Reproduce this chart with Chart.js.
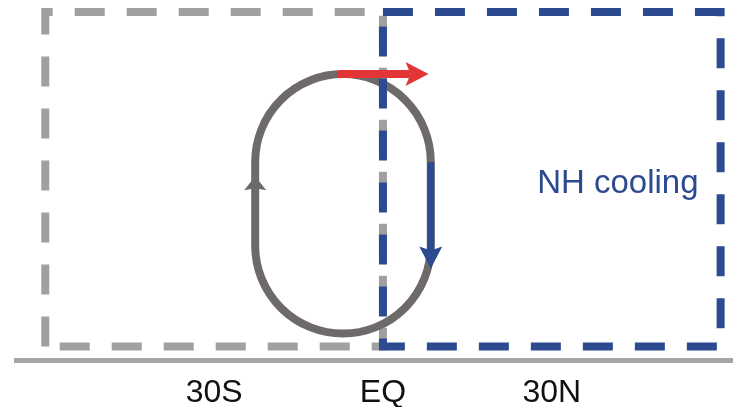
<!DOCTYPE html>
<html lang="en">
<head>
    <meta charset="UTF-8">
    <title>Overturning cell schematic</title>
    <script src="https://cdn.jsdelivr.net/npm/chart.js@4.4.1/dist/chart.umd.min.js"></script>
    <style>
        html, body {
            margin: 0;
            padding: 0;
            background: #fff;
            overflow: hidden;
        }
        .chart-container {
            position: relative;
            width: 733px;
            height: 425px;
        }
    </style>
</head>
<body>
    <div class="chart-container">
        <canvas id="cellChart"></canvas>
    </div>

    <script>
        // latitude axis
        const tickValues = [-30, 0, 30];
        const tickLabels = ['30S', 'EQ', '30N'];

        // dashed regions (latitude, height)
        const southBoxLat = [-60, -60, 0, 0, -60];
        const southBoxLev = [1.4, 34.8, 34.8, 1.4, 1.4];
        const northBoxLat = [0, 60, 60, 0, 0];
        const northBoxLev = [34.8, 34.8, 1.4, 1.4, 34.8];

        // overturning loop: west / east edge, bottom / top
        const loopLat = [-22.7, 8.5];
        const loopLev = [2.7, 28.6];

        // arrows: start -> tip
        const fluxLat = [-8.0, 8.1];
        const fluxLev = [28.6, 28.6];
        const sinkLat = [8.5, 8.5];
        const sinkLev = [19.8, 9.2];
        const riseLat = [-22.7];
        const riseLev = [18.4];

        // region label
        const regionLabels = ['NH cooling'];
        const regionLabelLat = [27.4];
        const regionLabelLev = [16.7];

        const GRAY_BOX = '#a0a0a0';
        const LOOP_GRAY = '#6e6a69';
        const BLUE = '#2b4a8f';
        const RED = '#e23636';

        function toPx(chart, lat, lev) {
            return [chart.scales.x.getPixelForValue(lat), chart.scales.y.getPixelForValue(lev)];
        }

        // triangle head, optional notch on its back edge
        function arrowHead(ctx, tipX, tipY, dirX, dirY, len, width, color, notch) {
            const bx = tipX - dirX * len, by = tipY - dirY * len;
            const nx = -dirY, ny = dirX;
            const n = notch || 0;
            ctx.save();
            ctx.fillStyle = color;
            ctx.beginPath();
            ctx.moveTo(tipX, tipY);
            ctx.lineTo(bx + nx * width / 2, by + ny * width / 2);
            ctx.lineTo(bx + dirX * n, by + dirY * n);
            ctx.lineTo(bx - nx * width / 2, by - ny * width / 2);
            ctx.closePath();
            ctx.fill();
            ctx.restore();
        }

        function shaft(ctx, x1, y1, x2, y2, color, w) {
            ctx.save();
            ctx.strokeStyle = color;
            ctx.lineWidth = w;
            ctx.lineCap = 'butt';
            ctx.beginPath();
            ctx.moveTo(x1, y1);
            ctx.lineTo(x2, y2);
            ctx.stroke();
            ctx.restore();
        }

        const cellPlugin = {
            id: 'cell',
            // draw loop and arrows right after the south box, below the north box
            afterDatasetDraw(chart, args) {
                if (args.index !== 1) return;
                const ctx = chart.ctx;

                // loop
                const [xw, yb] = toPx(chart, loopLat[0], loopLev[0]);
                const [xe, yt] = toPx(chart, loopLat[1], loopLev[1]);
                const r = (xe - xw) / 2, cx = (xw + xe) / 2;
                ctx.save();
                ctx.strokeStyle = LOOP_GRAY;
                ctx.lineWidth = 8;
                ctx.beginPath();
                ctx.arc(cx, yt + r, r, Math.PI, 0);
                ctx.lineTo(xe, yb - r);
                ctx.arc(cx, yb - r, r, 0, Math.PI);
                ctx.closePath();
                ctx.stroke();
                ctx.restore();

                // eddy flux arrow
                const [fx1, fy1] = toPx(chart, fluxLat[0], fluxLev[0]);
                const [fx2, fy2] = toPx(chart, fluxLat[1], fluxLev[1]);
                shaft(ctx, fx1, fy1, fx2 - 18, fy2, RED, 8);
                arrowHead(ctx, fx2, fy2, 1, 0, 23, 24, RED, 5);

                // sinking branch
                const [sx1, sy1] = toPx(chart, sinkLat[0], sinkLev[0]);
                const [sx2, sy2] = toPx(chart, sinkLat[1], sinkLev[1]);
                shaft(ctx, sx1, sy1, sx2, sy2 - 17, BLUE, 7);
                arrowHead(ctx, sx2, sy2, 0, 1, 22, 23, BLUE, 4);

                // rising branch head
                const [rx, ry] = toPx(chart, riseLat[0], riseLev[0]);
                arrowHead(ctx, rx, ry, 0, -1, 14, 22, LOOP_GRAY, 2);
            },
            afterDatasetsDraw(chart) {
                const ctx = chart.ctx;
                ctx.save();
                ctx.fillStyle = BLUE;
                ctx.font = '33px "Liberation Sans", Arial, sans-serif';
                ctx.textAlign = 'left';
                ctx.textBaseline = 'alphabetic';
                regionLabels.forEach((t, i) => {
                    const [x, y] = toPx(chart, regionLabelLat[i], regionLabelLev[i]);
                    ctx.fillText(t, x, y);
                });
                ctx.restore();
            }
        };

        const boxStyle = {
            showLine: true,
            borderWidth: 8,
            borderDash: [30, 22],
            borderCapStyle: 'butt',
            borderJoinStyle: 'miter',
            pointRadius: 0,
            fill: false,
            tension: 0,
            clip: false
        };

        const ctx = document.getElementById('cellChart').getContext('2d');
        new Chart(ctx, {
            type: 'scatter',
            data: {
                datasets: [
                    Object.assign({
                        label: 'NH region',
                        data: northBoxLat.map((x, i) => ({ x: x, y: northBoxLev[i] })),
                        borderColor: BLUE
                    }, boxStyle),
                    Object.assign({
                        label: 'SH region',
                        data: southBoxLat.map((x, i) => ({ x: x, y: southBoxLev[i] })),
                        borderColor: GRAY_BOX
                    }, boxStyle)
                ]
            },
            options: {
                responsive: true,
                maintainAspectRatio: false,
                animation: false,
                layout: { padding: { left: 16, right: 0, top: 0, bottom: 0 } },
                plugins: {
                    legend: { display: false },
                    tooltip: { enabled: false }
                },
                scales: {
                    x: {
                        type: 'linear',
                        min: -65.2,
                        max: 62.2,
                        afterBuildTicks: (scale) => {
                            scale.ticks = tickValues.map(v => ({ value: v }));
                        },
                        grid: { display: false, drawTicks: false },
                        border: { display: true, color: '#a5a5a5', width: 5 },
                        ticks: {
                            padding: 13,
                            color: '#111',
                            maxRotation: 0,
                            autoSkip: false,
                            font: { family: 'Liberation Sans', size: 32 },
                            callback: (v, i) => tickLabels[i]
                        }
                    },
                    y: {
                        display: false,
                        min: 0,
                        max: 36
                    }
                }
            },
            plugins: [cellPlugin]
        });
    </script>
</body>
</html>
